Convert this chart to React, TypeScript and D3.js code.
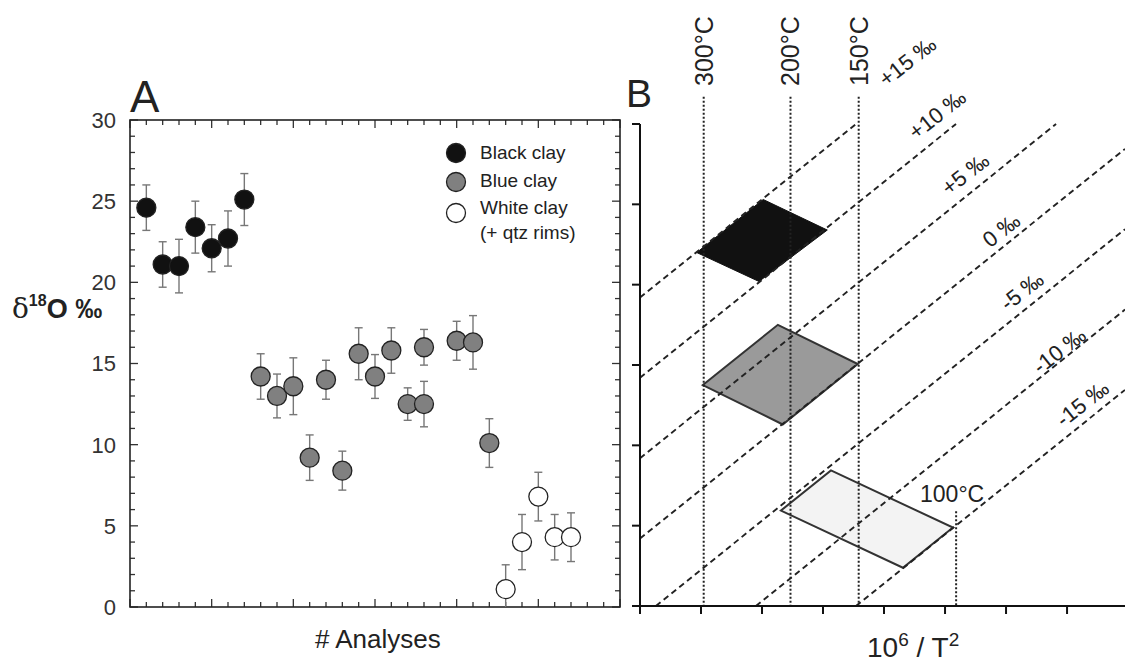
import React from 'react';
import * as d3 from 'd3';

// ---------- Panel A data ----------
const blackIdx = [1, 2, 3, 4, 5, 6, 7];
const blackVal = [24.6, 21.1, 21.0, 23.4, 22.1, 22.7, 25.1];
const blackErr = [1.4, 1.4, 1.65, 1.6, 1.45, 1.7, 1.6];

const blueIdx = [8, 9, 10, 11, 12, 13, 14, 15, 16, 17, 18, 18, 20, 21, 22];
const blueVal = [14.2, 13.0, 13.6, 9.2, 14.0, 8.4, 15.6, 14.2, 15.8, 12.5, 16.0, 12.5, 16.4, 16.3, 10.1];
const blueErr = [1.4, 1.35, 1.75, 1.4, 1.2, 1.2, 1.6, 1.35, 1.4, 1.0, 1.1, 1.4, 1.2, 1.65, 1.5];

const whiteIdx = [23, 24, 25, 26, 27];
const whiteVal = [1.1, 4.0, 6.8, 4.3, 4.3];
const whiteErr = [1.5, 1.7, 1.5, 1.4, 1.5];

const legendLabels = ['Black clay', 'Blue clay', 'White clay'];
const legendExtra = '(+ qtz rims)';
const yTicksA = [0, 5, 10, 15, 20, 25, 30];

// ---------- Panel B data ----------
const tempsTop = [300, 200, 150];
const tempBottom = 100;
const waterLabels = ['+15 ‰', '+10 ‰', '+5 ‰', '0 ‰', '-5 ‰', '-10 ‰', '-15 ‰'];
const waterStart = [[2, 19.2], [2, 14.2], [2, 9.2], [2, 4.2], [2.26, 0], [3.9, 0], [5.54, 0]];
const waterEnd = [[5.54, 30], [7.18, 30], [8.82, 30], [9.95, 28.45], [9.95, 23.45], [9.95, 18.45], [9.95, 13.45]];
const waterLabelAt = [[6.38, 33.9], [6.87, 30.6], [7.33, 26.9], [7.92, 23.4], [8.26, 19.6], [8.87, 15.9], [9.25, 12.6]];
const blackField = [[2.93, 22.0], [4.02, 25.3], [5.07, 23.4], [3.95, 20.2]];
const blueField = [[3.03, 13.75], [4.26, 17.5], [5.57, 15.06], [4.34, 11.3]];
const whiteField = [[4.31, 5.94], [5.13, 8.44], [7.13, 4.88], [6.31, 2.38]];
const xTicksB = [2, 3, 4, 5, 6, 7, 8, 9];
const yTicksB = [0, 5, 10, 15, 20, 25, 30];

const FONT = "'Liberation Sans', Arial, sans-serif";

export default function App() {
  const W = 1125, H = 666;
  const xA = d3.scaleLinear().domain([0, 30]).range([130, 620]);
  const yA = d3.scaleLinear().domain([0, 30]).range([607, 120]);
  const xB = d3.scaleLinear().domain([2, 9.95]).range([640, 1125]);
  const yB = d3.scaleLinear().domain([0, 30]).range([606, 124]);
  const invT2 = (t: number) => 1e6 / Math.pow(t + 273.15, 2);

  const minor = d3.range(0, 31);
  const tickCol = '#333';

  const series = [
    { idx: blackIdx, val: blackVal, err: blackErr, fill: '#111' },
    { idx: blueIdx, val: blueVal, err: blueErr, fill: '#808080' },
    { idx: whiteIdx, val: whiteVal, err: whiteErr, fill: '#fff' },
  ];
  const R = 9.5;
  const poly = (pts: number[][]) => pts.map(p => `${xB(p[0])},${yB(p[1])}`).join(' ');

  return (
    <svg width={W} height={H} style={{ position: 'absolute', left: 0, top: 0, background: '#fff' }} fontFamily={FONT}>
      {/* ---------------- Panel A ---------------- */}
      <text x={130} y={112} fontSize={44} fill="#222">A</text>
      {minor.map(v => {
        const len = v % 5 === 0 ? 8 : 5;
        return (
          <g key={'ta' + v} stroke={tickCol} strokeWidth={1.3}>
            <line x1={xA(0)} x2={xA(0) + len} y1={yA(v)} y2={yA(v)} />
            <line x1={xA(30)} x2={xA(30) - len} y1={yA(v)} y2={yA(v)} />
            <line x1={xA(v)} x2={xA(v)} y1={yA(0)} y2={yA(0) - len} />
            <line x1={xA(v)} x2={xA(v)} y1={yA(30)} y2={yA(30) + len} />
          </g>
        );
      })}
      <rect x={xA(0)} y={yA(30)} width={xA(30) - xA(0)} height={yA(0) - yA(30)} fill="none" stroke="#222" strokeWidth={1.6} />
      {yTicksA.map(v => (
        <text key={'yl' + v} x={116} y={yA(v)} dy="0.36em" textAnchor="end" fontSize={22} fill="#333">{v}</text>
      ))}
      <text x={12} y={318} fill="#222">
        <tspan fontFamily="'DejaVu Serif', 'Liberation Serif', serif" fontSize={28}>δ</tspan>
        <tspan fontSize={16} fontWeight="bold" dy={-12}>18</tspan>
        <tspan fontSize={27} fontWeight="bold" dy={12}>O ‰</tspan>
      </text>
      <text x={315} y={648} fontSize={26} fill="#222"># Analyses</text>

      {series.map((s, si) => s.idx.map((ix, i) => (
        <g key={`e${si}-${i}`} stroke="#777" strokeWidth={1.4}>
          <line x1={xA(ix)} x2={xA(ix)} y1={yA(s.val[i] + s.err[i])} y2={yA(Math.max(0, s.val[i] - s.err[i]))} />
          <line x1={xA(ix) - 4} x2={xA(ix) + 4} y1={yA(s.val[i] + s.err[i])} y2={yA(s.val[i] + s.err[i])} />
          {s.val[i] - s.err[i] > 0 && (
            <line x1={xA(ix) - 4} x2={xA(ix) + 4} y1={yA(s.val[i] - s.err[i])} y2={yA(s.val[i] - s.err[i])} />
          )}
        </g>
      )))}
      {series.map((s, si) => s.idx.map((ix, i) => (
        <circle key={`c${si}-${i}`} cx={xA(ix)} cy={yA(s.val[i])} r={R} fill={s.fill} stroke="#222" strokeWidth={1.3} />
      )))}
      {legendLabels.map((l, i) => (
        <g key={'lg' + i}>
          <circle cx={456} cy={[153, 182, 213][i]} r={R} fill={series[i].fill} stroke="#222" strokeWidth={1.3} />
          <text x={480} y={[159, 187, 214][i]} fontSize={19} fill="#222">{l}</text>
        </g>
      ))}
      <text x={480} y={239} fontSize={19} fill="#222">{legendExtra}</text>

      {/* ---------------- Panel B ---------------- */}
      <text x={626} y={107} fontSize={39} fill="#222">B</text>
      <polygon points={poly(blackField)} fill="#111" stroke="#111" strokeWidth={1} />
      <polygon points={poly(blueField)} fill="#9a9a9a" stroke="#333" strokeWidth={2} />
      <polygon points={poly(whiteField)} fill="#f3f3f3" stroke="#333" strokeWidth={2} />

      {waterStart.map((s, i) => (
        <line key={'wl' + i} x1={xB(s[0])} y1={yB(s[1])} x2={xB(waterEnd[i][0])} y2={yB(waterEnd[i][1])}
          stroke="#222" strokeWidth={1.9} strokeDasharray="6,4" />
      ))}
      {waterLabels.map((l, i) => (
        <text key={'wt' + i} transform={`translate(${xB(waterLabelAt[i][0])},${yB(waterLabelAt[i][1])}) rotate(-38)`}
          textAnchor="middle" dy="0.35em" fontSize={22} fill="#222">{l}</text>
      ))}

      {tempsTop.map(t => (
        <g key={'t' + t}>
          <line x1={xB(invT2(t))} x2={xB(invT2(t))} y1={yB(31.7)} y2={yB(0)} stroke="#222" strokeWidth={2} strokeDasharray="2,2" />
          <text transform={`translate(${xB(invT2(t))},86) rotate(-90)`} dy="0.36em" fontSize={25} fill="#222">{`${t}°C`}</text>
        </g>
      ))}
      <line x1={xB(invT2(tempBottom))} x2={xB(invT2(tempBottom))} y1={yB(5.9)} y2={yB(0)} stroke="#222" strokeWidth={2} strokeDasharray="2,2" />
      <text x={xB(invT2(tempBottom)) - 4} y={502} textAnchor="middle" fontSize={23} fill="#222">{`${tempBottom}°C`}</text>

      <line x1={xB(2)} x2={xB(2)} y1={yB(30)} y2={yB(0)} stroke="#111" strokeWidth={2} />
      <line x1={xB(2) - 7} x2={1125} y1={yB(0)} y2={yB(0)} stroke="#111" strokeWidth={2} />
      {yTicksB.map(v => (
        <line key={'byt' + v} x1={xB(2) - 8} x2={xB(2)} y1={yB(v)} y2={yB(v)} stroke="#111" strokeWidth={2} />
      ))}
      {xTicksB.map(v => (
        <line key={'bxt' + v} x1={xB(v)} x2={xB(v)} y1={yB(0)} y2={yB(0) + 8} stroke="#111" strokeWidth={2} />
      ))}
      <text x={867} y={657} fontSize={28} fill="#222">
        10<tspan fontSize={19} dy={-11}>6</tspan><tspan dy={11}> / T</tspan><tspan fontSize={19} dy={-11}>2</tspan>
      </text>
    </svg>
  );
}
